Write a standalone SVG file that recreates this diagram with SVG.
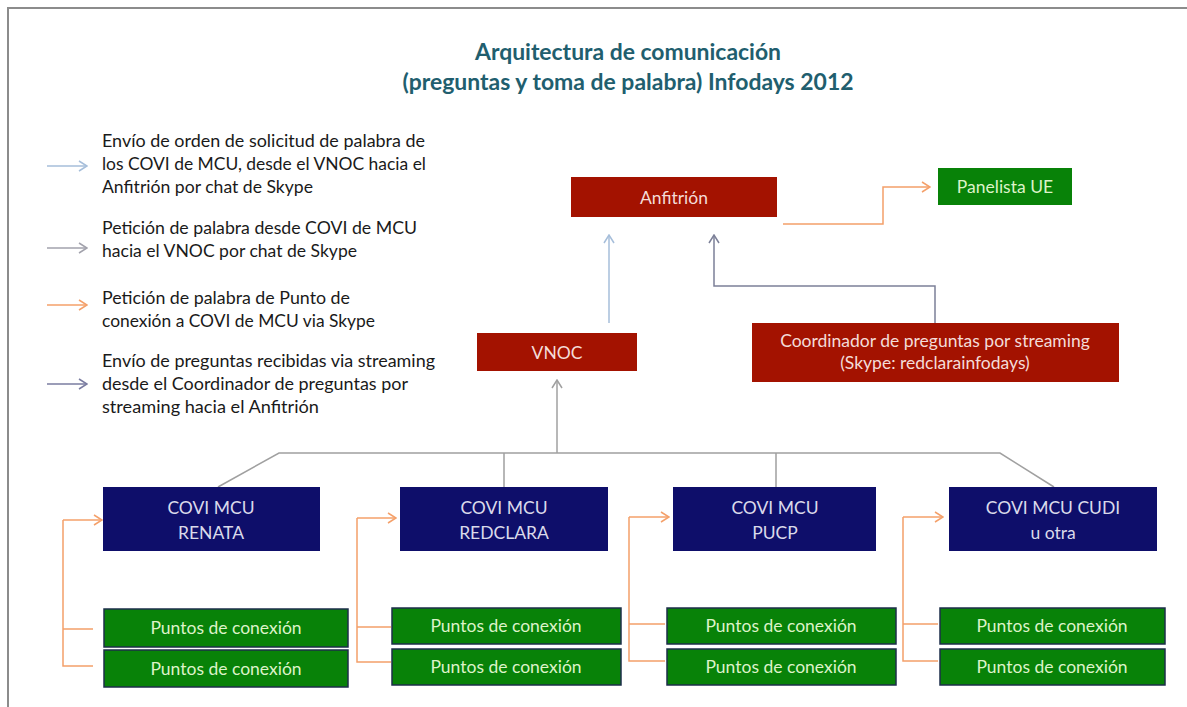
<svg xmlns="http://www.w3.org/2000/svg" width="1187" height="707" viewBox="0 0 1187 707">
<style>
text{font-family:Lato,"Open Sans","Liberation Sans",sans-serif;}
.title{font-size:22px;font-weight:bold;fill:#215E6E;text-anchor:middle;}
.leg{font-size:17px;fill:#1a1a1a;}
.red{fill:#A31200;}
.navy{fill:#0E0E6A;}
.grn{fill:#088208;}
.pt{fill:#088208;stroke:#1C2E4A;stroke-width:1.5;}
.tr{font-size:17.5px;fill:#F4DCD8;text-anchor:middle;}
.tn{font-size:17.5px;fill:#DADAEA;text-anchor:middle;}
.tg{font-size:17.5px;fill:#DDF3C8;text-anchor:middle;}
.c{fill:none;stroke-width:1.5;}
.or{stroke:#F4A06A;}
.gr{stroke:#A0A0A0;}
.bl{stroke:#A6BEDA;}
.sl{stroke:#7C8098;}
.g2{stroke:#A2A2AC;}
.pu{stroke:#7A7CA0;}
</style>
<defs>
<marker id="mOr" viewBox="0 0 10 12" refX="9" refY="6" markerWidth="10" markerHeight="12" markerUnits="userSpaceOnUse" orient="auto"><path d="M1,1 L9,6 L1,11" fill="none" stroke="#F4A06A" stroke-width="1.5"/></marker>
<marker id="mGr" viewBox="0 0 10 12" refX="9" refY="6" markerWidth="10" markerHeight="12" markerUnits="userSpaceOnUse" orient="auto"><path d="M1,1 L9,6 L1,11" fill="none" stroke="#A0A0A0" stroke-width="1.5"/></marker>
<marker id="mBl" viewBox="0 0 10 12" refX="9" refY="6" markerWidth="10" markerHeight="12" markerUnits="userSpaceOnUse" orient="auto"><path d="M1,1 L9,6 L1,11" fill="none" stroke="#A6BEDA" stroke-width="1.5"/></marker>
<marker id="mSl" viewBox="0 0 10 12" refX="9" refY="6" markerWidth="10" markerHeight="12" markerUnits="userSpaceOnUse" orient="auto"><path d="M1,1 L9,6 L1,11" fill="none" stroke="#7C8098" stroke-width="1.5"/></marker>
<marker id="mG2" viewBox="0 0 10 12" refX="9" refY="6" markerWidth="10" markerHeight="12" markerUnits="userSpaceOnUse" orient="auto"><path d="M1,1 L9,6 L1,11" fill="none" stroke="#A2A2AC" stroke-width="1.5"/></marker>
<marker id="mPu" viewBox="0 0 10 12" refX="9" refY="6" markerWidth="10" markerHeight="12" markerUnits="userSpaceOnUse" orient="auto"><path d="M1,1 L9,6 L1,11" fill="none" stroke="#7A7CA0" stroke-width="1.5"/></marker>
</defs>
<rect width="1187" height="707" fill="#fff"/>
<path d="M8,707 V8 H1187" fill="none" stroke="#8C8C8C" stroke-width="2"/>

<g id="title">
<text class="title" x="628" y="60" textLength="306" lengthAdjust="spacingAndGlyphs">Arquitectura de comunicación</text>
<text class="title" x="628" y="90" textLength="451" lengthAdjust="spacingAndGlyphs">(preguntas y toma de palabra) Infodays 2012</text>
</g>

<g id="legend">
<path class="c bl" d="M47,166 H87" marker-end="url(#mBl)"/>
<path class="c g2" d="M47,248 H87" marker-end="url(#mG2)"/>
<path class="c or" d="M47,305 H87" marker-end="url(#mOr)"/>
<path class="c pu" d="M47,384 H87" marker-end="url(#mPu)"/>
<text class="leg" x="102" y="147" textLength="323" lengthAdjust="spacingAndGlyphs">Envío de orden de solicitud de palabra de</text>
<text class="leg" x="102" y="170" textLength="324" lengthAdjust="spacingAndGlyphs">los COVI de MCU, desde el VNOC hacia el</text>
<text class="leg" x="102" y="193" textLength="211" lengthAdjust="spacingAndGlyphs">Anfitrión por chat de Skype</text>
<text class="leg" x="102" y="234" textLength="315" lengthAdjust="spacingAndGlyphs">Petición de palabra desde COVI de MCU</text>
<text class="leg" x="102" y="257" textLength="255" lengthAdjust="spacingAndGlyphs">hacia el VNOC por chat de Skype</text>
<text class="leg" x="102" y="304" textLength="248" lengthAdjust="spacingAndGlyphs">Petición de palabra de Punto de</text>
<text class="leg" x="102" y="327" textLength="273" lengthAdjust="spacingAndGlyphs">conexión a COVI de MCU via Skype</text>
<text class="leg" x="102" y="367" textLength="333" lengthAdjust="spacingAndGlyphs">Envío de preguntas recibidas via streaming</text>
<text class="leg" x="102" y="390" textLength="306" lengthAdjust="spacingAndGlyphs">desde el Coordinador de preguntas por</text>
<text class="leg" x="102" y="413" textLength="217" lengthAdjust="spacingAndGlyphs">streaming hacia el Anfitrión</text>
</g>

<g id="connectors">
<path class="c bl" d="M609,323 V235" marker-end="url(#mBl)"/>
<path class="c sl" d="M935,323 V286 H714 V235" marker-end="url(#mSl)"/>
<path class="c or" d="M783,224 H883 V187 H930" marker-end="url(#mOr)"/>
<path class="c gr" d="M218,487 L279,453 H1000 L1054,487"/>
<path class="c gr" d="M504,453 V487 M776,453 V487"/>
<path class="c gr" d="M557,453 V380" marker-end="url(#mGr)"/>
<path class="c or" d="M63,520 V666 H93 M63,629 H93"/>
<path class="c or" d="M63,520 H102" marker-end="url(#mOr)"/>
<path class="c or" d="M357,518 V662 H391 M357,627 H391"/>
<path class="c or" d="M357,518 H396" marker-end="url(#mOr)"/>
<path class="c or" d="M629,517 V661 H665 M629,624 H665"/>
<path class="c or" d="M629,517 H669" marker-end="url(#mOr)"/>
<path class="c or" d="M903,517 V661 H938 M903,624 H938"/>
<path class="c or" d="M903,517 H943" marker-end="url(#mOr)"/>
</g>

<g id="anfitrion"><rect class="red" x="571" y="177" width="206" height="40"/><text class="tr" x="674" y="204">Anfitrión</text></g>
<g id="panelista"><rect class="grn" x="938" y="168" width="134" height="37"/><text class="tg" x="1005" y="193">Panelista UE</text></g>
<g id="vnoc"><rect class="red" x="477" y="333" width="160" height="38"/><text class="tr" x="557" y="359">VNOC</text></g>
<g id="coordinador"><rect class="red" x="752" y="323" width="367" height="59"/><text class="tr" x="935" y="347">Coordinador de preguntas por streaming</text><text class="tr" x="935" y="369">(Skype: redclarainfodays)</text></g>

<g id="covi-renata"><rect class="navy" x="103" y="487" width="217" height="64"/><text class="tn" x="211" y="514">COVI MCU</text><text class="tn" x="211" y="539">RENATA</text></g>
<g id="covi-redclara"><rect class="navy" x="400" y="487" width="208" height="64"/><text class="tn" x="504" y="514">COVI MCU</text><text class="tn" x="504" y="539">REDCLARA</text></g>
<g id="covi-pucp"><rect class="navy" x="673" y="487" width="203" height="64"/><text class="tn" x="775" y="514">COVI MCU</text><text class="tn" x="775" y="539">PUCP</text></g>
<g id="covi-cudi"><rect class="navy" x="949" y="487" width="208" height="64"/><text class="tn" x="1053" y="514">COVI MCU CUDI</text><text class="tn" x="1053" y="539">u otra</text></g>

<g id="puntos-1a"><rect class="pt" x="104" y="609" width="244" height="38"/><text class="tg" x="226" y="634">Puntos de conexión</text></g>
<g id="puntos-1b"><rect class="pt" x="104" y="650" width="244" height="37"/><text class="tg" x="226" y="675">Puntos de conexión</text></g>
<g id="puntos-2a"><rect class="pt" x="392" y="608" width="229" height="36"/><text class="tg" x="506" y="632">Puntos de conexión</text></g>
<g id="puntos-2b"><rect class="pt" x="392" y="649" width="229" height="36"/><text class="tg" x="506" y="673">Puntos de conexión</text></g>
<g id="puntos-3a"><rect class="pt" x="667" y="608" width="229" height="36"/><text class="tg" x="781" y="632">Puntos de conexión</text></g>
<g id="puntos-3b"><rect class="pt" x="667" y="649" width="229" height="36"/><text class="tg" x="781" y="673">Puntos de conexión</text></g>
<g id="puntos-4a"><rect class="pt" x="940" y="608" width="225" height="36"/><text class="tg" x="1052" y="632">Puntos de conexión</text></g>
<g id="puntos-4b"><rect class="pt" x="940" y="649" width="225" height="36"/><text class="tg" x="1052" y="673">Puntos de conexión</text></g>
</svg>
